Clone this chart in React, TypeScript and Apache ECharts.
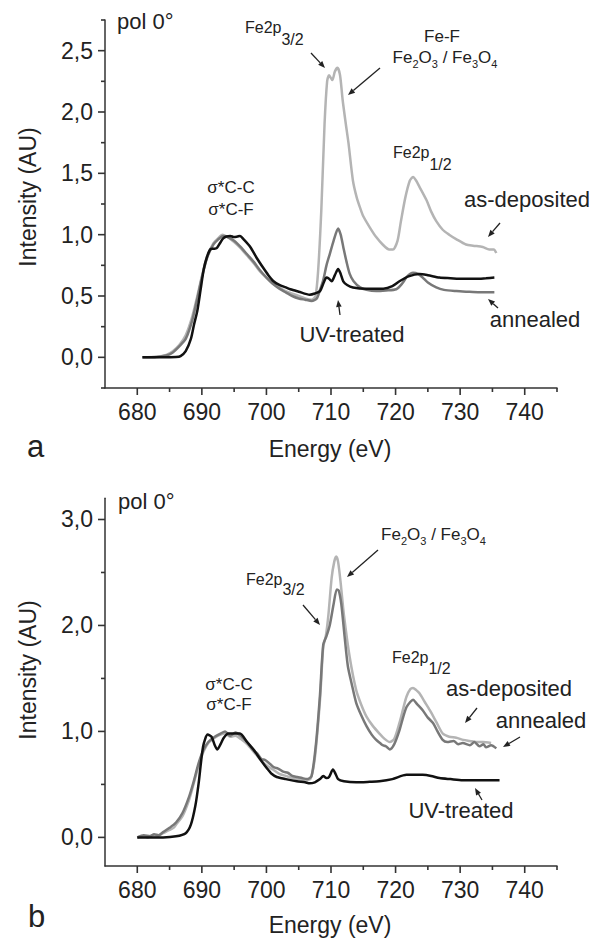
import React, { useEffect, useRef } from 'react';
import * as echarts from 'echarts';

const FONT = '"Liberation Sans", Arial, Helvetica, sans-serif';

// axis ticks
const energyTicks = [680, 690, 700, 710, 720, 730, 740];
const energyMinorTicks = [685, 695, 705, 715, 725, 735, 745];
const yTicksA = [0, 0.5, 1, 1.5, 2, 2.5];
const yMinorA = [-0.25, 0.25, 0.75, 1.25, 1.75, 2.25, 2.75];
const yTicksB = [0, 1, 2, 3];
const yMinorB = [0.5, 1.5, 2.5];

// panel a
const asDepositedA = [
  [680.8, 0], [683, 0.005], [684.5, 0.02], [685.5, 0.05], [686.5, 0.1], [687.5, 0.18], [688.5, 0.33],
  [689.3, 0.5], [690, 0.66], [690.8, 0.82], [691.8, 0.93], [692.5, 0.97], [693.2, 1.0], [694, 0.98],
  [695, 0.94], [696, 0.89], [697, 0.83], [698, 0.77], [699, 0.7], [700, 0.65], [701, 0.6], [702, 0.57],
  [703, 0.54], [704, 0.52], [705, 0.5], [706, 0.48], [707, 0.47], [707.6, 0.5], [708, 0.7], [708.5, 1.2],
  [709, 1.9], [709.4, 2.25], [709.7, 2.3], [710.2, 2.26], [710.6, 2.33], [711, 2.36], [711.4, 2.3],
  [711.8, 2.1], [712.3, 1.9], [712.7, 1.75], [713.4, 1.44], [714, 1.3], [714.5, 1.22], [715, 1.15],
  [716, 1.06], [717, 0.98], [718, 0.92], [719, 0.88], [719.6, 0.88], [720.3, 0.95], [720.8, 1.1],
  [721.5, 1.3], [722.2, 1.44], [722.7, 1.47], [723.2, 1.44], [723.7, 1.39], [724.8, 1.28], [725.5, 1.19],
  [726.3, 1.11], [727.3, 1.04], [728.3, 1.0], [729.5, 0.96], [730.9, 0.92], [732, 0.91], [733.5, 0.9],
  [734.5, 0.88], [735.2, 0.88], [735.6, 0.85],
];
const annealedA = [
  [680.8, 0], [683, 0.003], [684.5, 0.015], [685.5, 0.04], [686.5, 0.09], [687.5, 0.15], [688.5, 0.3],
  [689.3, 0.48], [690, 0.65], [690.8, 0.81], [691.8, 0.92], [692.5, 0.96], [693.3, 0.99], [694, 0.98],
  [695, 0.95], [696, 0.9], [697, 0.84], [698, 0.78], [699, 0.71], [700, 0.65], [701, 0.6], [702, 0.56],
  [703, 0.53], [704, 0.5], [705, 0.48], [706, 0.47], [707, 0.46], [707.8, 0.48], [708.3, 0.55],
  [708.8, 0.63], [709.3, 0.75], [709.8, 0.84], [710.4, 0.95], [711.1, 1.05], [711.5, 1.0], [711.9, 0.9],
  [712.4, 0.78], [712.9, 0.68], [713.5, 0.62], [714.5, 0.57], [715.5, 0.55], [717, 0.54], [718.5, 0.545],
  [720.1, 0.555], [721, 0.6], [721.8, 0.66], [722.7, 0.69], [723.5, 0.68], [724.2, 0.65], [725, 0.61],
  [726.3, 0.57], [727.5, 0.55], [729.4, 0.54], [731, 0.535], [733, 0.53], [735.3, 0.53],
];
const uvTreatedA = [
  [680.8, 0], [684, 0], [686, 0.003], [686.7, 0.01], [687.5, 0.05], [688.3, 0.15], [688.8, 0.27],
  [689.3, 0.38], [689.8, 0.55], [690.3, 0.72], [690.8, 0.82], [691.3, 0.88], [691.8, 0.885], [692.3, 0.89],
  [692.8, 0.93], [693.3, 0.97], [693.8, 0.985], [694.4, 0.99], [695, 0.98], [695.5, 0.985], [695.9, 0.99],
  [696.5, 0.96], [697.5, 0.9], [698.5, 0.81], [699.5, 0.73], [700.3, 0.67], [701.1, 0.62], [702, 0.59],
  [703, 0.57], [703.7, 0.555], [705, 0.535], [706.7, 0.51], [707.5, 0.52], [708.3, 0.54], [708.8, 0.6],
  [709.3, 0.65], [709.7, 0.64], [710.1, 0.62], [710.6, 0.67], [711.1, 0.72], [711.5, 0.68], [711.9, 0.62],
  [712.5, 0.59], [713.4, 0.57], [715.5, 0.56], [718.1, 0.56], [719.5, 0.58], [720.6, 0.62], [722, 0.66],
  [723.7, 0.68], [725, 0.67], [726.8, 0.65], [728.5, 0.645], [730.4, 0.64], [732.5, 0.64], [734, 0.645],
  [735.3, 0.65],
];

// panel b
const asDepositedB = [
  [680, 0], [681, 0.01], [681.6, 0.0], [682.3, 0.02], [683, 0.01], [684, 0.04], [685, 0.07], [685.6, 0.09],
  [686, 0.12], [687, 0.2], [688, 0.35], [688.7, 0.5], [689.5, 0.68], [690.2, 0.8], [691, 0.89], [692, 0.94],
  [692.9, 0.97], [693.6, 0.98], [694.4, 0.95], [695.2, 0.96], [696, 0.93], [697, 0.88], [698, 0.81],
  [699, 0.74], [700, 0.68], [701, 0.64], [702, 0.6], [703, 0.58], [704, 0.56], [705, 0.55], [706, 0.54],
  [706.8, 0.55], [707.5, 0.75], [708.3, 1.3], [708.8, 1.8], [709.2, 1.9], [709.6, 2.1], [710.1, 2.45],
  [710.5, 2.6], [710.8, 2.65], [711.1, 2.6], [711.5, 2.4], [712, 2.1], [712.9, 1.7], [713.9, 1.39],
  [714.7, 1.25], [715.5, 1.14], [716.5, 1.05], [717.5, 0.98], [718.3, 0.93], [719.1, 0.9], [719.8, 0.93],
  [720.6, 1.08], [721.2, 1.22], [721.7, 1.33], [722.3, 1.4], [722.7, 1.41], [723.2, 1.39], [723.7, 1.36],
  [724.5, 1.28], [725.3, 1.2], [726.3, 1.09], [727.3, 0.98], [728.3, 0.95], [729.4, 0.94], [730.5, 0.92],
  [731.5, 0.91], [732.5, 0.9], [733.5, 0.9], [734.8, 0.89],
];
const annealedB = [
  [680, 0], [681, 0.02], [682, 0.01], [682.6, 0.03], [683.3, 0.02], [684, 0.05], [685, 0.09], [686, 0.14],
  [687, 0.23], [688, 0.38], [688.7, 0.52], [689.5, 0.7], [690.2, 0.82], [691, 0.9], [692, 0.95],
  [692.9, 0.98], [693.6, 1.0], [694.4, 0.96], [695.2, 0.99], [696, 0.96], [697, 0.9], [698, 0.82],
  [698.6, 0.79], [699.2, 0.74], [699.8, 0.73], [700.6, 0.69], [701.2, 0.66], [701.8, 0.65], [702.6, 0.62],
  [703.3, 0.61], [704, 0.58], [704.8, 0.57], [705.5, 0.56], [706.3, 0.55], [707, 0.58], [707.7, 0.9],
  [708.3, 1.35], [708.8, 1.82], [709.3, 1.9], [709.8, 2.0], [710.4, 2.2], [710.9, 2.34], [711.2, 2.33],
  [711.6, 2.2], [712.1, 1.9], [712.6, 1.62], [713.2, 1.45], [713.9, 1.27], [714.7, 1.15], [715.5, 1.05],
  [716.3, 0.97], [717, 0.92], [717.6, 0.89], [718, 0.87], [718.5, 0.86], [719.1, 0.83], [719.8, 0.88],
  [720.6, 1.01], [721.2, 1.14], [721.7, 1.23], [722.3, 1.28], [722.7, 1.3], [723.3, 1.26], [724.2, 1.2],
  [725, 1.13], [725.8, 1.08], [726.5, 1.0], [727.3, 0.92], [728, 0.9], [729, 0.91], [729.7, 0.88],
  [730.4, 0.89], [731.5, 0.87], [732.2, 0.9], [733, 0.86], [733.6, 0.88], [734, 0.85], [734.8, 0.87],
  [735.6, 0.84],
];
const uvTreatedB = [
  [680, 0], [684, 0], [686, 0.01], [687.5, 0.04], [688.3, 0.12], [689, 0.3], [689.5, 0.51], [690.2, 0.86],
  [690.9, 0.97], [691.5, 0.95], [692, 0.87], [692.4, 0.83], [692.9, 0.88], [693.4, 0.94], [694.1, 0.98],
  [695, 0.98], [695.9, 0.98], [697, 0.9], [698, 0.83], [699, 0.74], [700.1, 0.65], [700.8, 0.6],
  [701.6, 0.57], [703, 0.55], [704.7, 0.53], [706, 0.52], [706.7, 0.51], [707.5, 0.52], [708.3, 0.55],
  [708.8, 0.58], [709.3, 0.56], [709.7, 0.57], [710.3, 0.64], [710.7, 0.6], [711.1, 0.55], [712, 0.53],
  [713.9, 0.52], [716, 0.525], [717.5, 0.53], [719.5, 0.55], [721.7, 0.59], [723, 0.59], [724.2, 0.59],
  [725.5, 0.58], [726.8, 0.56], [728.5, 0.55], [730.4, 0.54], [733, 0.54], [736.1, 0.54],
];

const COLOR_AS = '#b4b4b4';
const COLOR_AN = '#787878';
const COLOR_UV = '#111111';
const AXIS = '#333333';
const TEXT = '#222222';

const X_MIN = 675;
const X_MAX = 745;
const YA = [-0.25, 2.75];
const YB = [-0.27, 3.2];
const GRIDS = [
  { left: 105, top: 20, width: 452, height: 368 },
  { left: 105, top: 498.3, width: 452, height: 367.7 },
];

let measureCtx: CanvasRenderingContext2D | null = null;
function tw(text: string, size: number) {
  if (!measureCtx) measureCtx = document.createElement('canvas').getContext('2d');
  measureCtx!.font = `${size}px ${FONT}`;
  return measureCtx!.measureText(text).width;
}

function txt(x: number, y: number, text: string, size: number, align = 'left', extra: any = {}) {
  return {
    type: 'text',
    x,
    y,
    ...extra,
    style: { text, fontSize: size, fontFamily: FONT, fill: TEXT, align, verticalAlign: 'middle' },
  };
}

// fragments: [text, isSub]
function frags(xLeft: number, yMain: number, parts: [string, boolean][], mainSize: number, subSize: number, subDy: number) {
  const out: any[] = [];
  let x = xLeft;
  for (const [t, isSub] of parts) {
    const s = isSub ? subSize : mainSize;
    out.push(txt(x, isSub ? yMain + subDy : yMain, t, s));
    x += tw(t, s);
  }
  return out;
}
function fragsWidth(parts: [string, boolean][], mainSize: number, subSize: number) {
  return parts.reduce((w, [t, isSub]) => w + tw(t, isSub ? subSize : mainSize), 0);
}

function arrow(x1: number, y1: number, x2: number, y2: number) {
  const dx = x2 - x1;
  const dy = y2 - y1;
  const len = Math.sqrt(dx * dx + dy * dy);
  const ux = dx / len;
  const uy = dy / len;
  const hl = 7;
  const hw = 2.8;
  const bx = x2 - ux * hl;
  const by = y2 - uy * hl;
  return [
    { type: 'line', shape: { x1, y1, x2: bx, y2: by }, style: { stroke: '#222', lineWidth: 1.3 } },
    {
      type: 'polygon',
      shape: { points: [[x2, y2], [bx - uy * hw, by + ux * hw], [bx + uy * hw, by - ux * hw]] },
      style: { fill: '#222' },
    },
  ];
}

const fmt = (v: number) => v.toFixed(1).replace('.', ',');

function xAxis(gridIndex: number) {
  return {
    type: 'value', gridIndex, min: X_MIN, max: X_MAX, position: 'bottom',
    axisLine: { show: true, onZero: false, lineStyle: { color: AXIS, width: 1.5 } },
    axisTick: { show: false },
    axisLabel: { show: true, customValues: energyTicks, margin: 12, fontSize: 23, color: TEXT, fontFamily: FONT },
    splitLine: { show: false },
  };
}
function yAxis(gridIndex: number, range: number[], major: number[]) {
  return {
    type: 'value', gridIndex, min: range[0], max: range[1], position: 'left',
    axisLine: { show: true, onZero: false, lineStyle: { color: AXIS, width: 1.5 } },
    axisTick: { show: false },
    axisLabel: { show: true, customValues: major, margin: 12, fontSize: 23, color: TEXT, fontFamily: FONT, formatter: fmt },
    splitLine: { show: false },
  };
}

function line(data: number[][], color: string, axisIndex: number) {
  return {
    type: 'line', data, xAxisIndex: axisIndex, yAxisIndex: axisIndex, showSymbol: false, symbol: 'none',
    smooth: 0.25, lineStyle: { color, width: 2.5 }, silent: true,
  };
}

export default function App() {
  const ref = useRef<HTMLDivElement>(null);
  useEffect(() => {
    document.body.style.margin = '0';
    const chart = echarts.init(ref.current!, null, { renderer: 'svg' });

    const oxide: [string, boolean][] = [['Fe', false], ['2', true], ['O', false], ['3', true], [' / Fe', false], ['3', true], ['O', false], ['4', true]];
    const oxW = fragsWidth(oxide, 17, 11);

    const texts: any[] = [
      // panel a
      txt(117, 21, 'pol 0°', 22),
      ...frags(245, 27.6, [['Fe2p', false], ['3/2', true]], 16, 16, 12),
      ...arrow(311, 53, 325, 68),
      txt(442, 36, 'Fe-F', 17, 'center'),
      ...frags(445 - oxW / 2, 57, oxide, 17, 11, 7),
      ...arrow(380, 68, 348, 95),
      ...frags(393, 152.6, [['Fe2p', false], ['1/2', true]], 16, 16, 12),
      txt(527, 199, 'as-deposited', 22, 'center'),
      ...arrow(500, 223, 488, 237),
      txt(535, 319, 'annealed', 22, 'center'),
      ...arrow(498, 308, 488, 299),
      txt(352, 334, 'UV-treated', 22, 'center'),
      ...arrow(340, 315, 338, 300),
      txt(231, 187, 'σ*C-C', 17, 'center'),
      txt(231, 209, 'σ*C-F', 17, 'center'),
      txt(27, 446, 'a', 31),
      txt(330, 449, 'Energy (eV)', 23, 'center'),
      txt(28, 197, 'Intensity (AU)', 23, 'center', { rotation: Math.PI / 2 }),
      // panel b
      txt(118, 501, 'pol 0°', 22),
      ...frags(246, 579.2, [['Fe2p', false], ['3/2', true]], 16, 16, 10.5),
      ...arrow(303, 605, 320, 625),
      ...frags(433.5 - oxW / 2, 534, oxide, 17, 11, 7),
      ...arrow(378, 550, 347, 577),
      ...frags(392, 657.6, [['Fe2p', false], ['1/2', true]], 16, 16, 10.5),
      txt(509, 688, 'as-deposited', 22, 'center'),
      ...arrow(477, 708, 465, 723),
      txt(541, 720, 'annealed', 22, 'center'),
      ...arrow(520, 737, 503, 747),
      txt(461, 810, 'UV-treated', 22, 'center'),
      ...arrow(482, 800, 475, 788),
      txt(229, 684, 'σ*C-C', 17, 'center'),
      txt(229, 704, 'σ*C-F', 17, 'center'),
      txt(28, 916, 'b', 31),
      txt(330, 925, 'Energy (eV)', 23, 'center'),
      txt(28, 670, 'Intensity (AU)', 23, 'center', { rotation: Math.PI / 2 }),
    ];

    chart.setOption({
      animation: false,
      backgroundColor: '#ffffff',
      grid: GRIDS.map((g) => ({ ...g, containLabel: false })),
      xAxis: [xAxis(0), xAxis(1)],
      yAxis: [yAxis(0, YA, yTicksA), yAxis(1, YB, yTicksB)],
      series: [
        line(asDepositedA, COLOR_AS, 0),
        line(annealedA, COLOR_AN, 0),
        line(uvTreatedA, COLOR_UV, 0),
        line(asDepositedB, COLOR_AS, 1),
        line(annealedB, COLOR_AN, 1),
        line(uvTreatedB, COLOR_UV, 1),
      ],
    });

    // tick marks, placed through the axes' scales
    const toPixel = (gi: number, yRange: number[], x: number, y: number): number[] => {
      let p: any = null;
      try {
        p = chart.convertToPixel({ seriesIndex: gi * 3 }, [x, y]);
      } catch (e) {
        p = null;
      }
      if (!p || !isFinite(p[0]) || !isFinite(p[1])) {
        const g = GRIDS[gi];
        p = [
          g.left + ((x - X_MIN) / (X_MAX - X_MIN)) * g.width,
          g.top + g.height - ((y - yRange[0]) / (yRange[1] - yRange[0])) * g.height,
        ];
      }
      return p;
    };
    const ticks: any[] = [];
    const tickStyle = { stroke: AXIS, lineWidth: 1.6 };
    const addTicks = (gi: number, yRange: number[], yMajor: number[], yMinor: number[]) => {
      const xt = (v: number, len: number) => {
        const p = toPixel(gi, yRange, v, yRange[0]);
        ticks.push({ type: 'line', z: 10, shape: { x1: p[0], y1: p[1], x2: p[0], y2: p[1] + len }, style: tickStyle });
      };
      const yt = (v: number, len: number) => {
        const p = toPixel(gi, yRange, X_MIN, v);
        ticks.push({ type: 'line', z: 10, shape: { x1: p[0] - len, y1: p[1], x2: p[0], y2: p[1] }, style: tickStyle });
      };
      energyTicks.forEach((v) => xt(v, 7));
      energyMinorTicks.forEach((v) => xt(v, 4));
      yMajor.forEach((v) => yt(v, 7));
      yMinor.forEach((v) => yt(v, 4));
    };
    addTicks(0, YA, yTicksA, yMinorA);
    addTicks(1, YB, yTicksB, yMinorB);

    chart.setOption({ graphic: [...ticks, ...texts] });
    return () => chart.dispose();
  }, []);
  return <div ref={ref} style={{ width: 591, height: 939 }} />;
}
